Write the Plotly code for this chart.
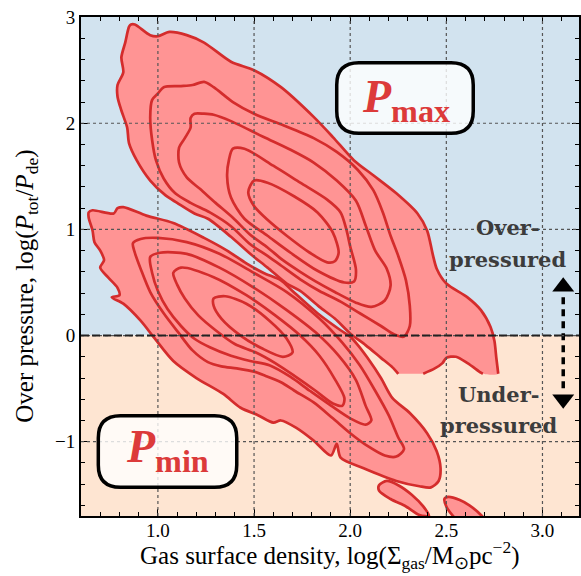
import plotly.graph_objects as go

# axis ticks
x_tickvals = [1.0, 1.5, 2.0, 2.5, 3.0]
x_ticktext = ["1.0", "1.5", "2.0", "2.5", "3.0"]
y_tickvals = [-1, 0, 1, 2, 3]
y_ticktext = ["\u22121", "0", "1", "2", "3"]

# contour outlines: (log Sigma_gas, log P_tot/P_de)
# P_max outer level is cut at the bottom of its grid, so it comes in two pieces
pmax_outer_a = [(2.25, -0.36), (2.22, -0.30), (2.16, -0.21), (2.08, -0.09), (2.00, 0.02),
                (1.92, 0.16), (1.84, 0.27), (1.74, 0.42), (1.67, 0.49), (1.57, 0.64),
                (1.48, 0.77), (1.38, 0.93), (1.26, 1.10), (1.19, 1.15), (1.10, 1.25),
                (1.04, 1.32), (0.96, 1.46), (0.89, 1.65), (0.85, 1.81), (0.84, 1.96),
                (0.81, 2.12), (0.79, 2.25), (0.79, 2.36), (0.82, 2.48), (0.81, 2.62),
                (0.83, 2.76), (0.85, 2.91), (0.86, 2.93), (0.88, 2.93), (0.96, 2.83),
                (1.00, 2.82), (1.06, 2.86), (1.15, 2.83), (1.24, 2.76), (1.38, 2.58),
                (1.50, 2.50), (1.64, 2.34), (1.81, 2.06), (1.91, 1.87), (2.02, 1.65),
                (2.12, 1.51), (2.24, 1.34), (2.35, 1.15), (2.40, 0.99), (2.43, 0.76),
                (2.45, 0.63), (2.50, 0.49), (2.61, 0.36), (2.68, 0.24), (2.73, 0.08),
                (2.75, -0.05), (2.76, -0.21), (2.77, -0.36)]
pmax_outer_b = [(2.69, -0.36), (2.68, -0.35), (2.61, -0.26), (2.55, -0.20), (2.50, -0.21),
                (2.48, -0.26), (2.44, -0.31), (2.38, -0.36)]
pmax_l2 = [(0.96, 2.06), (0.97, 2.22), (1.00, 2.28), (1.03, 2.34), (1.12, 2.35), (1.18, 2.36),
           (1.24, 2.39), (1.29, 2.34), (1.39, 2.20), (1.50, 2.09), (1.64, 1.99), (1.81, 1.86),
           (1.93, 1.73), (2.04, 1.56), (2.12, 1.37), (2.17, 1.16), (2.21, 0.94), (2.25, 0.75),
           (2.29, 0.52), (2.31, 0.28), (2.31, 0.09), (2.28, -0.01), (2.23, 0.01), (2.16, 0.09),
           (2.05, 0.21), (1.95, 0.32), (1.84, 0.42), (1.74, 0.53), (1.64, 0.66), (1.57, 0.75),
           (1.48, 0.86), (1.38, 1.03), (1.27, 1.16), (1.17, 1.25), (1.09, 1.34), (1.03, 1.48),
           (0.99, 1.65), (0.97, 1.84)]
pmax_l3 = [(1.17, 1.96), (1.17, 2.05), (1.19, 2.09), (1.24, 2.09), (1.29, 2.08), (1.38, 2.02),
           (1.55, 1.87), (1.69, 1.75), (1.81, 1.63), (1.93, 1.46), (2.03, 1.27), (2.08, 1.04),
           (2.13, 0.80), (2.19, 0.63), (2.21, 0.47), (2.18, 0.33), (2.11, 0.27), (2.03, 0.31),
           (1.92, 0.41), (1.82, 0.51), (1.74, 0.60), (1.65, 0.71), (1.57, 0.83), (1.48, 0.95),
           (1.39, 1.11), (1.30, 1.25), (1.22, 1.38), (1.15, 1.49), (1.11, 1.63), (1.11, 1.77),
           (1.14, 1.86)]
pmax_l4 = [(1.39, 1.76), (1.45, 1.76), (1.60, 1.60), (1.74, 1.44), (1.88, 1.28), (1.95, 1.16),
           (1.98, 1.00), (2.00, 0.84), (2.03, 0.62), (2.02, 0.51), (1.97, 0.50), (1.83, 0.61),
           (1.69, 0.78), (1.57, 0.94), (1.45, 1.10), (1.38, 1.30), (1.36, 1.50), (1.37, 1.66)]
pmax_l5 = [(1.50, 1.46), (1.57, 1.44), (1.71, 1.31), (1.83, 1.16), (1.91, 0.97), (1.94, 0.78),
           (1.92, 0.70), (1.88, 0.69), (1.79, 0.78), (1.67, 0.94), (1.57, 1.09), (1.50, 1.22),
           (1.47, 1.35)]

pmin_outer = [(0.64, 1.16), (0.66, 1.18), (0.77, 1.15), (0.79, 1.20), (0.82, 1.21), (0.94, 1.13),
              (1.08, 1.06), (1.24, 0.92), (1.36, 0.80), (1.46, 0.68), (1.55, 0.59), (1.64, 0.52),
              (1.70, 0.42), (1.83, 0.21), (1.95, 0.05), (2.00, -0.01), (2.04, -0.09),
              (2.09, -0.21), (2.16, -0.40), (2.22, -0.59), (2.31, -0.73), (2.40, -0.92),
              (2.45, -1.09), (2.47, -1.25), (2.46, -1.37), (2.42, -1.43), (2.36, -1.42),
              (2.24, -1.37), (2.07, -1.25), (1.95, -1.15), (1.93, -1.02), (1.90, -1.13),
              (1.81, -0.99), (1.72, -0.87), (1.64, -0.80), (1.60, -0.82), (1.52, -0.75),
              (1.43, -0.68), (1.34, -0.55), (1.20, -0.40), (1.08, -0.24), (0.98, -0.02),
              (0.91, 0.14), (0.82, 0.30), (0.76, 0.36), (0.80, 0.38), (0.79, 0.45),
              (0.74, 0.55), (0.70, 0.64), (0.72, 0.71), (0.70, 0.80), (0.67, 0.88),
              (0.66, 0.99), (0.64, 1.11)]
pmin_l2 = [(0.87, 0.87), (0.91, 0.91), (1.00, 0.92), (1.15, 0.88), (1.32, 0.77), (1.50, 0.59),
           (1.67, 0.41), (1.84, 0.16), (1.96, -0.07), (2.05, -0.28), (2.13, -0.52),
           (2.20, -0.75), (2.25, -0.96), (2.28, -1.07), (2.24, -1.14), (2.18, -1.13),
           (2.09, -1.04), (2.00, -0.92), (1.91, -0.78), (1.81, -0.63), (1.71, -0.52),
           (1.64, -0.44), (1.56, -0.38), (1.50, -0.34), (1.41, -0.31), (1.33, -0.29),
           (1.26, -0.25), (1.18, -0.14), (1.11, 0.02), (1.03, 0.21), (0.96, 0.41),
           (0.91, 0.63), (0.88, 0.78)]
pmin_l3 = [(0.96, 0.74), (1.01, 0.78), (1.15, 0.77), (1.32, 0.64), (1.50, 0.45), (1.67, 0.24),
           (1.82, 0.03), (1.94, -0.19), (2.03, -0.42), (2.08, -0.66), (2.11, -0.80),
           (2.08, -0.84), (2.00, -0.78), (1.90, -0.66), (1.79, -0.52), (1.69, -0.39),
           (1.58, -0.28), (1.48, -0.24), (1.38, -0.19), (1.27, -0.11), (1.19, -0.03),
           (1.12, 0.09), (1.05, 0.25), (1.00, 0.42), (0.97, 0.59)]
pmin_l4 = [(1.08, 0.59), (1.12, 0.64), (1.29, 0.55), (1.46, 0.38), (1.61, 0.19), (1.74, 0.00),
           (1.84, -0.19), (1.92, -0.41), (1.97, -0.59), (1.96, -0.66), (1.91, -0.64),
           (1.82, -0.52), (1.71, -0.38), (1.61, -0.26), (1.51, -0.16), (1.40, -0.08),
           (1.30, 0.05), (1.21, 0.19), (1.14, 0.35), (1.10, 0.48)]
pmin_l5 = [(1.29, 0.35), (1.35, 0.37), (1.46, 0.30), (1.58, 0.14), (1.67, -0.03), (1.70, -0.16),
           (1.65, -0.20), (1.54, -0.12), (1.43, 0.00), (1.33, 0.16), (1.29, 0.28)]
pmin_island1 = [(2.15, -1.41), (2.19, -1.37), (2.25, -1.41), (2.32, -1.50), (2.38, -1.61),
                (2.41, -1.70), (2.36, -1.69), (2.29, -1.61), (2.21, -1.54), (2.15, -1.46)]
pmin_island2 = [(2.49, -1.54), (2.51, -1.52), (2.57, -1.55), (2.62, -1.60), (2.68, -1.69),
                (2.71, -1.76), (2.57, -1.76), (2.53, -1.69), (2.50, -1.61)]

FILL = "#ff9494"
EDGE = "#d42c2c"
BLUE = "#d2e3ef"
PEACH = "#fee5d2"
XR = [0.6, 3.19]
YR = [-1.7, 3.001]


def xs(pts):
    return [p[0] for p in pts]


def ys(pts):
    return [p[1] for p in pts]


def closed(pts):
    return pts + pts[:1]


fig = go.Figure()


def add_fill(pts):
    fig.add_trace(go.Scatter(x=xs(pts), y=ys(pts), mode="lines", fill="toself",
                             fillcolor=FILL, line=dict(width=0, shape="spline", smoothing=0.8),
                             hoverinfo="skip"))


def add_line(pts):
    fig.add_trace(go.Scatter(x=xs(pts), y=ys(pts), mode="lines",
                             line=dict(color=EDGE, width=2.7, shape="spline", smoothing=0.8),
                             hoverinfo="skip"))


# P_min first
for c in [pmin_outer, pmin_island1, pmin_island2]:
    add_fill(closed(c))
for c in [pmin_outer, pmin_l2, pmin_l3, pmin_l4, pmin_l5, pmin_island1, pmin_island2]:
    add_line(closed(c))

# P_max
add_fill(pmax_outer_a + pmax_outer_b)
add_line(pmax_outer_a)
add_line(pmax_outer_b)
for c in [pmax_l2, pmax_l3, pmax_l4, pmax_l5]:
    add_line(closed(c))

# double arrow on the right
fig.add_trace(go.Scatter(x=[3.108, 3.108], y=[0.36, -0.50], mode="lines",
                         line=dict(color="black", width=3.5, dash="7px,5px"), hoverinfo="skip"))
fig.add_trace(go.Scatter(x=[3.108, 3.108], y=[0.46, -0.60], mode="markers",
                         marker=dict(symbol=["triangle-up", "triangle-down"], size=19,
                                     color="black"), hoverinfo="skip"))

shapes = [
    dict(type="rect", xref="paper", yref="y", x0=0, x1=1, y0=0, y1=YR[1],
         fillcolor=BLUE, line_width=0, layer="below"),
    dict(type="rect", xref="paper", yref="y", x0=0, x1=1, y0=YR[0], y1=0,
         fillcolor=PEACH, line_width=0, layer="below"),
]
# dotted grid drawn over the contours
for v in x_tickvals:
    shapes.append(dict(type="line", xref="x", yref="paper", x0=v, x1=v, y0=0, y1=1,
                       line=dict(color="#555555", width=1.2, dash="dot"), layer="above"))
for v in y_tickvals[:-1]:
    shapes.append(dict(type="line", xref="paper", yref="y", x0=0, x1=1, y0=v, y1=v,
                       line=dict(color="#555555", width=1.2, dash="dot"), layer="above"))
shapes.append(dict(type="line", xref="paper", yref="y", x0=0, x1=1, y0=0, y1=0,
                   line=dict(color="#222222", width=2, dash="8px,3px"), layer="above"))


def rounded_box(x0, x1, y0, y1, rx, ry):
    p = (f"M {x0 + rx},{y0} L {x1 - rx},{y0} Q {x1},{y0} {x1},{y0 + ry} "
         f"L {x1},{y1 - ry} Q {x1},{y1} {x1 - rx},{y1} L {x0 + rx},{y1} "
         f"Q {x0},{y1} {x0},{y1 - ry} L {x0},{y0 + ry} Q {x0},{y0} {x0 + rx},{y0} Z")
    return dict(type="path", path=p, xref="x", yref="y", layer="above",
                fillcolor="rgba(255,255,255,0.8)", line=dict(color="black", width=3.5))


shapes.append(rounded_box(1.93, 2.64, 1.905, 2.57, 0.115, 0.21))
shapes.append(rounded_box(0.69, 1.41, -1.43, -0.755, 0.115, 0.21))

lab_font = dict(family="Liberation Serif", size=46, color="#dc3a3a")
txt_font = dict(family="DejaVu Serif", size=21, color="#3c3c3c")
title_font = dict(family="Liberation Serif", size=25, color="black")
annotations = [
    dict(x=2.29, y=2.22, text="<b><i>P</i></b><b><sub>max</sub></b>", showarrow=False,
         font=lab_font),
    dict(x=1.05, y=-1.08, text="<b><i>P</i></b><b><sub>min</sub></b>", showarrow=False,
         font=lab_font),
    dict(x=2.82, y=1.02, text="<b>Over-</b>", showarrow=False, font=txt_font),
    dict(x=2.82, y=0.72, text="<b>pressured</b>", showarrow=False, font=txt_font),
    dict(x=2.77, y=-0.56, text="<b>Under-</b>", showarrow=False, font=txt_font),
    dict(x=2.77, y=-0.85, text="<b>pressured</b>", showarrow=False, font=txt_font),
    # axis titles
    dict(xref="paper", yref="paper", x=0.5, y=-0.079, yanchor="middle",
         text="Gas surface density, log(\u03a3<sub>gas</sub>/M<sub>\u2299</sub>pc<sup>\u22122</sup>)",
         showarrow=False, font=title_font),
    dict(xref="paper", yref="paper", x=-0.11, y=0.46, xanchor="center", yanchor="middle",
         textangle=-90,
         text="Over pressure, log(<i>P</i><sub>tot</sub>/<i>P</i><sub>de</sub>)",
         showarrow=False, font=title_font),
]

axis_common = dict(ticks="inside", ticklen=7, tickwidth=1.3, tickcolor="black",
                   mirror="allticks", showline=True, linecolor="black", linewidth=1.8,
                   showgrid=False, zeroline=False, automargin=False)

fig.update_layout(
    width=581, height=576,
    margin=dict(l=81, r=2, t=17, b=60),
    paper_bgcolor="white", plot_bgcolor="white",
    showlegend=False,
    font=dict(family="Liberation Serif", size=19, color="black"),
    shapes=shapes,
    annotations=annotations,
    xaxis=dict(range=XR, tickmode="array", tickvals=x_tickvals, ticktext=x_ticktext,
               ticklabelstandoff=-4,
               minor=dict(tickmode="linear", tick0=0, dtick=0.1, ticks="inside", ticklen=4,
                          tickwidth=1, tickcolor="black", showgrid=False),
               **axis_common),
    yaxis=dict(range=YR, tickmode="array", tickvals=y_tickvals, ticktext=y_ticktext,
               minor=dict(tickmode="linear", tick0=0, dtick=0.2, ticks="inside", ticklen=4,
                          tickwidth=1, tickcolor="black", showgrid=False),
               **axis_common),
)

# the page's default body margin would shift the figure by 8px
fig.write_html("out.html", config={"displayModeBar": False},
               post_script="document.body.style.margin='0';")
